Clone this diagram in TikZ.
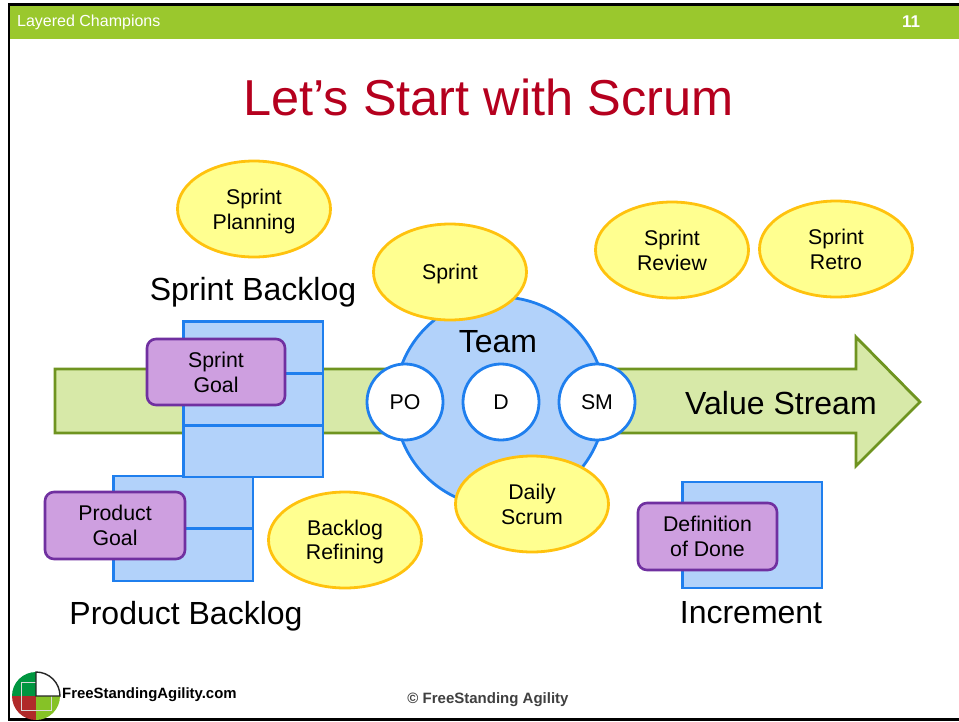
\documentclass[tikz,border=0pt]{standalone}
\usepackage{fontspec}
\setmainfont{Liberation Sans}
\usetikzlibrary{shapes.geometric,calc}
\definecolor{bandgreen}{HTML}{9AC82D}
\definecolor{titlered}{HTML}{B5001E}
\definecolor{arrowfill}{HTML}{D7E9A8}
\definecolor{arrowline}{HTML}{6F9420}
\definecolor{boxblue}{HTML}{B2D2FA}
\definecolor{lineblue}{HTML}{1F7FEE}
\definecolor{ellfill}{HTML}{FFFF90}
\definecolor{ellline}{HTML}{FFC20E}
\definecolor{goalfill}{HTML}{CE9FE0}
\definecolor{goalline}{HTML}{7030A0}
\definecolor{logogreen}{HTML}{009640}
\definecolor{logored}{HTML}{B02A2A}
\definecolor{logolime}{HTML}{86C226}
\tikzset{
  event/.style={ellipse,draw=ellline,fill=ellfill,line width=2.8pt,outer sep=0pt,minimum width=153pt,minimum height=96pt,inner sep=0pt,align=center,font=\fontsize{21.3}{24.6}\selectfont},
  backlog/.style={rectangle,draw=lineblue,fill=boxblue,line width=2.8pt,outer sep=0pt,inner sep=0pt,anchor=north west},
  goal/.style={rectangle,rounded corners=9pt,draw=goalline,fill=goalfill,line width=2.6pt,outer sep=0pt,inner sep=0pt,align=center,font=\fontsize{21.3}{24.6}\selectfont},
  role/.style={circle,draw=lineblue,fill=white,line width=2.8pt,outer sep=0pt,minimum size=76pt,inner sep=0pt,text depth=-4pt,font=\fontsize{21.3}{24}\selectfont},
  heading/.style={font=\fontsize{32}{38}\selectfont,inner sep=0pt},
  divider/.style={draw=lineblue,line width=2.8pt}
}
\begin{document}
\begin{tikzpicture}[x=1pt,y=-1pt]
\useasboundingbox (0,0) rectangle (959,721);
\fill[white] (0,0) rectangle (959,721);
% frame and band
\fill[bandgreen] (9,5) rectangle (959,39);
\draw[black,line width=2.6pt] (959,4.5) -- (9,4.5) -- (9,719.5) -- (959,719.5);
\node[anchor=west,text=white,inner sep=0pt,font=\fontsize{16}{19}\selectfont] (band) at (17,22.5) {Layered Champions};
\node[text=white,inner sep=0pt,font=\bfseries\fontsize{17}{19}\selectfont] (page) at (911,21.5) {11};
\node[text=titlered,inner sep=0pt,font=\fontsize{50.5}{58}\selectfont] (title) at (488.5,97) {Let’s Start with Scrum};
% value stream arrow
\draw[draw=arrowline,fill=arrowfill,line width=2.8pt,line join=miter]
  (55,369) -- (856,369) -- (856,337) -- (920,402) -- (856,466) -- (856,433) -- (55,433) -- cycle;
% team
\node[circle,draw=lineblue,fill=boxblue,line width=2.8pt,outer sep=0pt,minimum size=210pt,inner sep=0pt] (team) at (500,402) {};
\node[heading] (teamlabel) at (498,342) {Team};
\node[role] (po) at (405,402) {PO};
\node[role] (d) at (501,402) {D};
\node[role] (sm) at (597,402) {SM};
\node[heading,anchor=west] (vs) at (685,403) {Value Stream};
% backlogs
\node[backlog,minimum width=139.5pt,minimum height=105pt] (pb) at (113.5,476) {};
\draw[divider] (pb.west) -- (pb.east);
\node[backlog,minimum width=139.5pt,minimum height=155.7pt] (sb) at (183.5,321.3) {};
\draw[divider] ($(sb.north west)!0.333!(sb.south west)$) -- ($(sb.north east)!0.333!(sb.south east)$);
\draw[divider] ($(sb.north west)!0.667!(sb.south west)$) -- ($(sb.north east)!0.667!(sb.south east)$);
\node[backlog,minimum width=139.5pt,minimum height=106pt] (inc) at (682.5,482) {};
% goals
\node[goal,minimum width=138pt,minimum height=66pt,text depth=-6pt] (sg) at (216,372) {Sprint\\Goal};
\node[goal,minimum width=140pt,minimum height=67pt,text depth=-2pt] (pg) at (115,525.5) {Product\\Goal};
\node[goal,minimum width=139pt,minimum height=67pt,text depth=-2pt] (dod) at (707.5,536.5) {Definition\\of Done};
% events
\node[event,text depth=0pt] (planning) at (254,209) {Sprint\\Planning};
\node[event,text depth=-5.6pt] (sprint) at (450,272) {Sprint};
\node[event,text depth=-5pt] (review) at (672,250) {Sprint\\Review};
\node[event,text depth=-2pt] (retro) at (836,249) {Sprint\\Retro};
\node[event,text depth=0.4pt] (refining) at (345,540) {Backlog\\Refining};
\node[event,text depth=0pt] (daily) at (532,504) {Daily\\Scrum};
% headings
\node[heading] (sblabel) at (253,292) {Sprint Backlog};
\node[heading] (pblabel) at (186,616) {Product Backlog};
\node[heading] (inclabel) at (751,613) {Increment};
% logo
\begin{scope}
\clip (36,696) circle (24);
\fill[logogreen] (12,672) rectangle (36,696);
\fill[logored] (12,696) rectangle (36,720);
\fill[logolime] (36,696) rectangle (60,720);
\draw[white!70!gray,line width=1pt] (21,682) rectangle (51,710);
\fill[white] (36,672) rectangle (60,696);
\end{scope}
\draw[black!85,line width=1.4pt] (36,696) -- (36,672) arc (-90:0:24) -- cycle;
\node[anchor=west,inner sep=0pt,font=\bfseries\fontsize{14.9}{17}\selectfont] (site) at (62,694.5) {FreeStandingAgility.com};
\node[inner sep=0pt,text=black!75,font=\bfseries\fontsize{15}{18}\selectfont] (copy) at (488,700) {© FreeStanding Agility};
\end{tikzpicture}
\end{document}
